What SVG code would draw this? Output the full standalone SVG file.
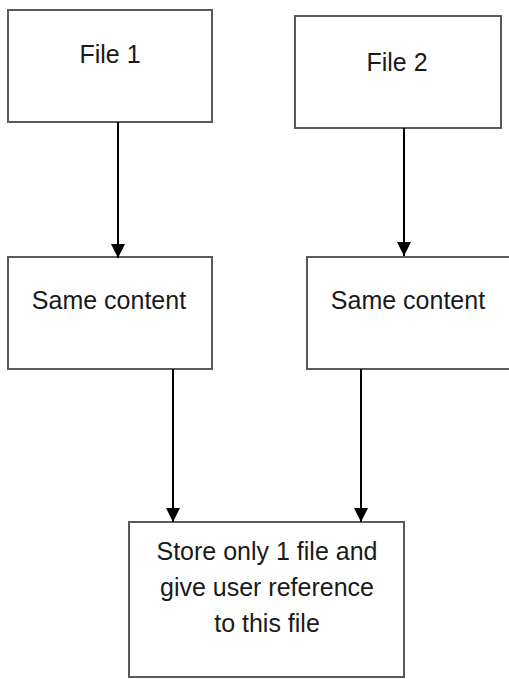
<svg xmlns="http://www.w3.org/2000/svg" width="509" height="679" viewBox="0 0 509 679">
  <style>
    .box { fill: #ffffff; stroke: #5a5a5a; stroke-width: 2; }
    .lbl { font-family: "Liberation Sans", Arial, sans-serif; font-size: 25px; fill: #1a1a1a; text-anchor: middle; }
    .edge { stroke: #000000; stroke-width: 2; fill: none; marker-end: url(#arrow); }
  </style>
  <defs>
    <marker id="arrow" markerUnits="userSpaceOnUse" markerWidth="14" markerHeight="14" refX="14" refY="7" orient="auto">
      <path d="M0,0 L14,7 L0,14 Z" fill="#000000"/>
    </marker>
  </defs>
  <rect width="509" height="679" fill="#ffffff"/>

  <g id="file1">
    <rect class="box" x="8" y="10" width="204" height="112"/>
    <text class="lbl" x="110" y="63">File 1</text>
  </g>
  <g id="file2">
    <rect class="box" x="295" y="16" width="206" height="112"/>
    <text class="lbl" x="397" y="71">File 2</text>
  </g>
  <g id="same1">
    <rect class="box" x="8" y="257" width="204" height="112"/>
    <text class="lbl" x="109" y="309">Same content</text>
  </g>
  <g id="same2">
    <rect class="box" x="307" y="257" width="210" height="112"/>
    <text class="lbl" x="408" y="309">Same content</text>
  </g>
  <g id="store">
    <rect class="box" x="129" y="522" width="275" height="155"/>
    <text class="lbl" x="267" y="560">Store only 1 file and</text>
    <text class="lbl" x="267" y="596">give user reference</text>
    <text class="lbl" x="267" y="632">to this file</text>
  </g>

  <g id="connectors">
    <path class="edge" d="M118,122 L118,258"/>
    <path class="edge" d="M404,128 L404,256"/>
    <path class="edge" d="M173,369 L173,522"/>
    <path class="edge" d="M361,369 L361,522"/>
  </g>
</svg>
